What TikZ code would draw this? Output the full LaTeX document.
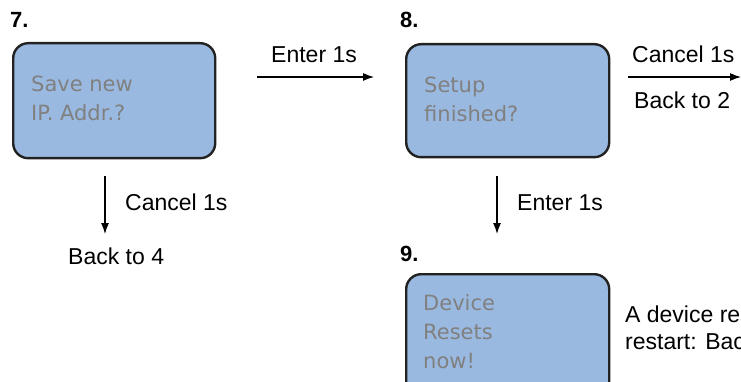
\documentclass[tikz,border=0pt]{standalone}
\usepackage{fontspec}
\setmainfont{Liberation Sans}
\newfontfamily\boxfont{DejaVu Sans}
\usetikzlibrary{arrows.meta}
\definecolor{screenfill}{RGB}{154,185,224}
\definecolor{screentext}{RGB}{128,128,128}
\definecolor{screenedge}{RGB}{34,34,34}
\tikzset{
  screen/.style={draw=screenedge, line width=2.4pt, fill=screenfill,
    rounded corners=15pt, inner sep=0pt, anchor=north west},
  screentxt/.style={anchor=north west, inner sep=0pt, align=left,
    text=screentext, font=\boxfont\fontsize{21}{29}\selectfont},
  steplabel/.style={anchor=base west, inner sep=0pt,
    font=\bfseries\fontsize{22}{26}\selectfont},
  note/.style={anchor=base west, inner sep=0pt,
    font=\fontsize{23}{27}\selectfont},
  flow/.style={line width=1.2pt, -{Latex[length=11pt,width=8pt]}}
}
\begin{document}
\begin{tikzpicture}[x=1pt,y=-1pt]
\useasboundingbox (0,0) rectangle (741,382);
\clip (0,0) rectangle (741,382);
\fill[white] (0,0) rectangle (741,382);

% step 7
\node[steplabel] (n7) at (10,28) {7.};
\node[screen, minimum width=202, minimum height=115] (box7) at (12,42) {};
\node[screentxt] (t7) at (31,76) {Save new\\IP. Addr.?};

% step 8
\node[steplabel] (n8) at (400,28) {8.};
\node[screen, minimum width=203, minimum height=113] (box8) at (405,43) {};
\node[screentxt] (t8) at (424,77) {Setup\\finished?};

% step 9
\node[steplabel] (n9) at (400,261) {9.};
\node[screen, minimum width=203, minimum height=125] (box9) at (405,273) {};
\node[screentxt] (t9) at (423,294) {Device\\Resets\\now!};
\node[note, align=left, anchor=north west, font=\fontsize{23}{27}\selectfont]
  (msg9) at (625,306) {A device reset follows\\restart: Back to 1};

% 7 -> 8 : Enter
\coordinate (e78s) at (257,77);
\coordinate (e78e) at (374,77);
\draw[flow] (e78s) -- (e78e);
\node[note] (l78) at (271,63) {Enter 1s};

% 7 -> back to 4 : Cancel
\coordinate (c7s) at (105,176);
\coordinate (c7e) at (105,234);
\draw[flow] (c7s) -- (c7e);
\node[note] (l7c) at (125,211) {Cancel 1s};
\node[note] (b4) at (68,264) {Back to 4};

% 8 -> back to 2 : Cancel
\coordinate (c8s) at (628,77);
\coordinate (c8e) at (741,77);
\draw[flow] (c8s) -- (c8e);
\node[note] (l8c) at (632,63) {Cancel 1s};
\node[note] (b2) at (634,109) {Back to 2};

% 8 -> 9 : Enter
\coordinate (e89s) at (497,176);
\coordinate (e89e) at (497,234);
\draw[flow] (e89s) -- (e89e);
\node[note] (l89) at (517,211) {Enter 1s};
\end{tikzpicture}
\end{document}
